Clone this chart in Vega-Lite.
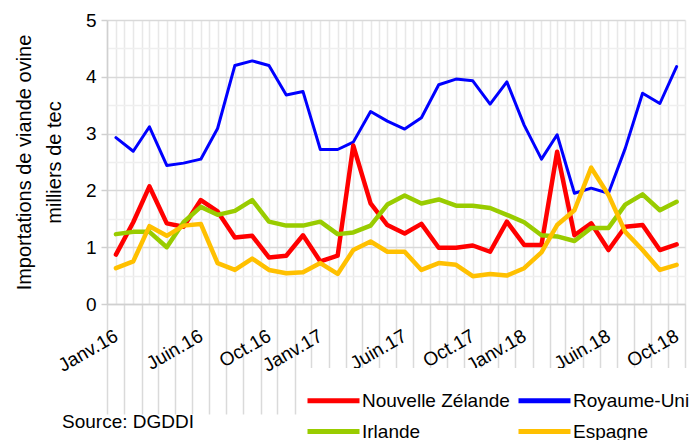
{
  "$schema": "https://vega.github.io/schema/vega-lite/v6.json",
  "width": 578,
  "height": 284,
  "autosize": "none",
  "padding": {"left": 107, "top": 20, "right": 5, "bottom": 136},
  "background": "white",
  "config": {"font": "Liberation Sans", "view": {"stroke": null}},
  "title": {"text": "Source: DGDDI", "orient": "top", "anchor": "start", "frame": "group", "dx": -45, "dy": 436, "offset": 0, "baseline": "alphabetic", "fontSize": 19, "fontWeight": "normal", "color": "black"},
  "data": {
    "values": [
      {"mois": "2016-01", "Royaume-Uni": 2.93, "Nouvelle Zélande": 0.87, "Irlande": 1.23, "Espagne": 0.63},
      {"mois": "2016-02", "Royaume-Uni": 2.69, "Nouvelle Zélande": 1.44, "Irlande": 1.27, "Espagne": 0.75},
      {"mois": "2016-03", "Royaume-Uni": 3.12, "Nouvelle Zélande": 2.07, "Irlande": 1.27, "Espagne": 1.37},
      {"mois": "2016-04", "Royaume-Uni": 2.44, "Nouvelle Zélande": 1.42, "Irlande": 1.0, "Espagne": 1.2},
      {"mois": "2016-05", "Royaume-Uni": 2.48, "Nouvelle Zélande": 1.36, "Irlande": 1.44, "Espagne": 1.38},
      {"mois": "2016-06", "Royaume-Uni": 2.55, "Nouvelle Zélande": 1.83, "Irlande": 1.71, "Espagne": 1.41},
      {"mois": "2016-07", "Royaume-Uni": 3.09, "Nouvelle Zélande": 1.63, "Irlande": 1.57, "Espagne": 0.72},
      {"mois": "2016-08", "Royaume-Uni": 4.2, "Nouvelle Zélande": 1.17, "Irlande": 1.64, "Espagne": 0.6},
      {"mois": "2016-09", "Royaume-Uni": 4.28, "Nouvelle Zélande": 1.2, "Irlande": 1.83, "Espagne": 0.8},
      {"mois": "2016-10", "Royaume-Uni": 4.2, "Nouvelle Zélande": 0.82, "Irlande": 1.45, "Espagne": 0.6},
      {"mois": "2016-11", "Royaume-Uni": 3.68, "Nouvelle Zélande": 0.85, "Irlande": 1.38, "Espagne": 0.54},
      {"mois": "2016-12", "Royaume-Uni": 3.74, "Nouvelle Zélande": 1.21, "Irlande": 1.38, "Espagne": 0.56},
      {"mois": "2017-01", "Royaume-Uni": 2.72, "Nouvelle Zélande": 0.75, "Irlande": 1.45, "Espagne": 0.72},
      {"mois": "2017-02", "Royaume-Uni": 2.72, "Nouvelle Zélande": 0.85, "Irlande": 1.23, "Espagne": 0.53},
      {"mois": "2017-03", "Royaume-Uni": 2.85, "Nouvelle Zélande": 2.79, "Irlande": 1.26, "Espagne": 0.95},
      {"mois": "2017-04", "Royaume-Uni": 3.39, "Nouvelle Zélande": 1.77, "Irlande": 1.38, "Espagne": 1.1},
      {"mois": "2017-05", "Royaume-Uni": 3.22, "Nouvelle Zélande": 1.39, "Irlande": 1.75, "Espagne": 0.92},
      {"mois": "2017-06", "Royaume-Uni": 3.08, "Nouvelle Zélande": 1.24, "Irlande": 1.91, "Espagne": 0.92},
      {"mois": "2017-07", "Royaume-Uni": 3.28, "Nouvelle Zélande": 1.41, "Irlande": 1.77, "Espagne": 0.6},
      {"mois": "2017-08", "Royaume-Uni": 3.86, "Nouvelle Zélande": 0.99, "Irlande": 1.84, "Espagne": 0.72},
      {"mois": "2017-09", "Royaume-Uni": 3.96, "Nouvelle Zélande": 0.99, "Irlande": 1.73, "Espagne": 0.69},
      {"mois": "2017-10", "Royaume-Uni": 3.93, "Nouvelle Zélande": 1.03, "Irlande": 1.73, "Espagne": 0.49},
      {"mois": "2017-11", "Royaume-Uni": 3.52, "Nouvelle Zélande": 0.92, "Irlande": 1.69, "Espagne": 0.53},
      {"mois": "2017-12", "Royaume-Uni": 3.91, "Nouvelle Zélande": 1.45, "Irlande": 1.57, "Espagne": 0.5},
      {"mois": "2018-01", "Royaume-Uni": 3.15, "Nouvelle Zélande": 1.04, "Irlande": 1.44, "Espagne": 0.63},
      {"mois": "2018-02", "Royaume-Uni": 2.55, "Nouvelle Zélande": 1.04, "Irlande": 1.21, "Espagne": 0.91},
      {"mois": "2018-03", "Royaume-Uni": 2.98, "Nouvelle Zélande": 2.68, "Irlande": 1.19, "Espagne": 1.39},
      {"mois": "2018-04", "Royaume-Uni": 1.95, "Nouvelle Zélande": 1.21, "Irlande": 1.11, "Espagne": 1.65},
      {"mois": "2018-05", "Royaume-Uni": 2.04, "Nouvelle Zélande": 1.42, "Irlande": 1.34, "Espagne": 2.4},
      {"mois": "2018-06", "Royaume-Uni": 1.95, "Nouvelle Zélande": 0.95, "Irlande": 1.34, "Espagne": 1.92},
      {"mois": "2018-07", "Royaume-Uni": 2.74, "Nouvelle Zélande": 1.36, "Irlande": 1.75, "Espagne": 1.27},
      {"mois": "2018-08", "Royaume-Uni": 3.71, "Nouvelle Zélande": 1.39, "Irlande": 1.93, "Espagne": 0.95},
      {"mois": "2018-09", "Royaume-Uni": 3.53, "Nouvelle Zélande": 0.95, "Irlande": 1.65, "Espagne": 0.6},
      {"mois": "2018-10", "Royaume-Uni": 4.18, "Nouvelle Zélande": 1.05, "Irlande": 1.8, "Espagne": 0.69}
    ],
    "format": {"parse": {"mois": "utc:'%Y-%m'"}}
  },
  "transform": [
    {"fold": ["Royaume-Uni", "Nouvelle Zélande", "Irlande", "Espagne"], "as": ["pays", "valeur"]}
  ],
  "mark": {"type": "line", "strokeCap": "round", "strokeJoin": "round"},
  "encoding": {
    "x": {
      "field": "mois",
      "type": "temporal",
      "scale": {"type": "utc", "domain": [{"year": 2015, "month": 12, "date": 16, "utc": true}, {"year": 2018, "month": 10, "date": 16, "utc": true}]},
      "axis": {
        "title": null,
        "values": {"expr": "[utc(2015,11,16),utc(2016,0,16),utc(2016,1,16),utc(2016,2,16),utc(2016,3,16),utc(2016,4,16),utc(2016,5,16),utc(2016,6,16),utc(2016,7,16),utc(2016,8,16),utc(2016,9,16),utc(2016,10,16),utc(2016,11,16),utc(2017,0,16),utc(2017,1,16),utc(2017,2,16),utc(2017,3,16),utc(2017,4,16),utc(2017,5,16),utc(2017,6,16),utc(2017,7,16),utc(2017,8,16),utc(2017,9,16),utc(2017,10,16),utc(2017,11,16),utc(2018,0,16),utc(2018,1,16),utc(2018,2,16),utc(2018,3,16),utc(2018,4,16),utc(2018,5,16),utc(2018,6,16),utc(2018,7,16),utc(2018,8,16),utc(2018,9,16),utc(2016,0,1),utc(2016,1,1),utc(2016,2,1),utc(2016,3,1),utc(2016,4,1),utc(2016,5,1),utc(2016,6,1),utc(2016,7,1),utc(2016,8,1),utc(2016,9,1),utc(2016,10,1),utc(2016,11,1),utc(2017,0,1),utc(2017,1,1),utc(2017,2,1),utc(2017,3,1),utc(2017,4,1),utc(2017,5,1),utc(2017,6,1),utc(2017,7,1),utc(2017,8,1),utc(2017,9,1),utc(2017,10,1),utc(2017,11,1),utc(2018,0,1),utc(2018,1,1),utc(2018,2,1),utc(2018,3,1),utc(2018,4,1),utc(2018,5,1),utc(2018,6,1),utc(2018,7,1),utc(2018,8,1),utc(2018,9,1)]"},
        "grid": true,
        "gridColor": "#e8e8e8",
        "gridWidth": 1.5,
        "domainColor": "#d0d0d0",
        "domainWidth": 1.5,
        "ticks": true,
        "tickSize": 110,
        "tickColor": "#dadada",
        "tickWidth": 1.5,
        "tickOpacity": {"condition": {"test": "utcdate(datum.value) == 16", "value": 1}, "value": 0},
        "labelExpr": "utcdate(datum.value) == 1 && (utcmonth(datum.value) == 0 || utcmonth(datum.value) == 5 || utcmonth(datum.value) == 9) ? (utcmonth(datum.value) == 0 ? 'Janv.' : utcmonth(datum.value) == 5 ? 'Juin.' : 'Oct.') + utcFormat(datum.value, '%y') : ''",
        "labelAngle": -30,
        "labelAlign": "right",
        "labelBaseline": "middle",
        "labelPadding": -80,
        "labelFontSize": 19,
        "labelColor": "black",
        "labelOverlap": false,
        "labelBound": false,
        "labelFlush": false
      }
    },
    "y": {
      "field": "valeur",
      "type": "quantitative",
      "scale": {"domain": [0, 5], "nice": false},
      "axis": {
        "values": [0, 0.5, 1, 1.5, 2, 2.5, 3, 3.5, 4, 4.5, 5],
        "format": ".0f",
        "title": ["Importations  de viande ovine", "milliers  de tec"],
        "titleFontSize": 20,
        "titleFontWeight": "normal",
        "titleColor": "black",
        "titleLineHeight": 30,
        "titlePadding": 21,
        "grid": true,
        "gridColor": {"condition": {"test": "datum.value % 1 == 0", "value": "#d9d9d9"}, "value": "#efefef"},
        "gridWidth": 1.5,
        "domainColor": "#d0d0d0",
        "domainWidth": 1.5,
        "tickColor": "#d0d0d0",
        "tickSize": 6,
        "tickWidth": 1.5,
        "tickOpacity": {"condition": {"test": "datum.value % 1 == 0", "value": 1}, "value": 0},
        "labelExpr": "datum.value % 1 == 0 ? datum.label : ''",
        "labelFontSize": 19,
        "labelColor": "black",
        "labelPadding": 5
      }
    },
    "color": {
      "field": "pays",
      "type": "nominal",
      "scale": {"domain": ["Nouvelle Zélande", "Irlande", "Royaume-Uni", "Espagne"], "range": ["#ff0000", "#99cc00", "#0000ff", "#ffc000"]},
      "legend": {
        "title": null,
        "orient": "none",
        "legendX": 194,
        "legendY": 348,
        "columns": 2,
        "symbolType": "M-2.6,0H2.6",
        "symbolSize": 400,
        "symbolStrokeWidth": 5,
        "labelFontSize": 19,
        "labelColor": "black",
        "labelOffset": 16,
        "labelLimit": 300,
        "columnPadding": -2,
        "rowPadding": 8,
        "padding": 20,
        "fillColor": "white"
      }
    },
    "strokeWidth": {
      "condition": {"test": "datum.pays == 'Royaume-Uni'", "value": 3},
      "value": 4.5
    }
  }
}
